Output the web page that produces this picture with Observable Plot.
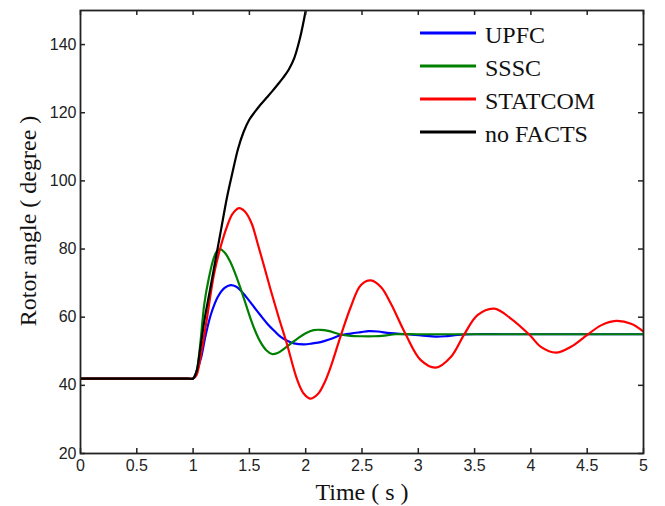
<!DOCTYPE html>
<html><head><meta charset="utf-8">
<script src="https://cdn.jsdelivr.net/npm/d3@7"></script>
<script src="https://cdn.jsdelivr.net/npm/@observablehq/plot@0.6"></script>
<style>
html,body{margin:0;padding:0;background:#fff;}
#chart{position:relative;width:665px;height:506px;}
</style></head><body><div id="chart"></div>
<script>
const seriesNames = ["UPFC", "SSSC", "STATCOM", "no FACTS"];
const seriesColors = ["#0000ff", "#008000", "#ff0000", "#000000"];

const tUPFC = [0, 0.25, 0.5, 0.75, 0.95, 1.0, 1.03, 1.07, 1.11, 1.16, 1.22, 1.28, 1.333, 1.38, 1.42, 1.48, 1.541, 1.6, 1.659, 1.72, 1.778, 1.84, 1.896, 1.985, 2.06, 2.133, 2.22, 2.311, 2.4, 2.49, 2.56, 2.64, 2.75, 2.9, 3.07, 3.15, 3.24, 3.35, 3.5, 3.75, 4.0, 4.25, 4.5, 4.75, 5.0];
const yUPFC = [42, 42, 42, 42, 42, 42, 44, 48, 54.5, 61, 66, 68.6, 69.4, 69, 67.9, 65.6, 63, 60.5, 58.1, 56, 54.2, 53, 52.3, 52, 52.3, 52.7, 53.6, 54.7, 55.2, 55.6, 55.9, 55.8, 55.3, 55, 54.5, 54.3, 54.4, 54.8, 55, 55, 55, 55, 55, 55, 55];

const tSSSC = [0, 0.25, 0.5, 0.75, 0.95, 1.0, 1.03, 1.06, 1.1, 1.14, 1.18, 1.21, 1.24, 1.28, 1.33, 1.38, 1.42, 1.47, 1.51, 1.56, 1.6, 1.65, 1.7, 1.75, 1.81, 1.87, 1.93, 2.0, 2.07, 2.13, 2.2, 2.3, 2.4, 2.5, 2.6, 2.7, 2.8, 3.0, 3.25, 3.5, 3.75, 4.0, 4.25, 4.5, 4.75, 5.0];
const ySSSC = [42, 42, 42, 42, 42, 42, 44, 51, 64, 71.5, 77, 79.3, 80, 79, 76.3, 72.3, 68.6, 63.6, 59.6, 55.3, 52.6, 50.3, 49.2, 49.5, 50.8, 52.3, 53.8, 55.3, 56.2, 56.3, 56, 55, 54.5, 54.4, 54.4, 54.6, 55, 55, 55, 55, 55, 55, 55, 55, 55, 55];

const tSTATCOM = [0, 0.25, 0.5, 0.75, 0.95, 1.0, 1.03, 1.07, 1.12, 1.185, 1.244, 1.3, 1.35, 1.407, 1.46, 1.52, 1.57, 1.63, 1.689, 1.76, 1.83, 1.926, 1.98, 2.044, 2.11, 2.17, 2.222, 2.311, 2.4, 2.489, 2.578, 2.67, 2.756, 2.889, 3.022, 3.156, 3.289, 3.407, 3.526, 3.674, 3.822, 3.985, 4.089, 4.222, 4.356, 4.504, 4.622, 4.756, 4.889, 5.0];
const ySTATCOM = [42, 42, 42, 42, 42, 42, 43, 49, 59, 72.5, 80.6, 86.5, 90.3, 92, 91, 87.5, 82, 75, 68, 60, 52.5, 41.5, 37.7, 36.1, 37.5, 41, 45.4, 54.5, 63, 69.4, 70.8, 68.8, 64, 54.9, 47.4, 45.2, 48.3, 54.9, 60.6, 62.5, 59.6, 54.9, 51.3, 49.6, 51.3, 54.9, 57.6, 58.9, 58.1, 55.8];

const tNoFACTS = [0, 0.25, 0.5, 0.75, 0.95, 1.0, 1.03, 1.06, 1.1, 1.15, 1.2, 1.25, 1.3, 1.35, 1.4, 1.45, 1.5, 1.55, 1.6, 1.65, 1.7, 1.75, 1.8, 1.85, 1.9, 1.95, 2.0, 2.04];
const yNoFACTS = [42, 42, 42, 42, 42, 42, 44, 50, 59, 68, 77, 86, 95, 102.5, 109.5, 114.5, 118, 120.3, 122.4, 124.3, 126.2, 128.2, 130.3, 132.7, 136.2, 142, 150, 158];

const xTicks = [0, 0.5, 1, 1.5, 2, 2.5, 3, 3.5, 4, 4.5, 5];
const xTickLabels = ["0", "0.5", "1", "1.5", "2", "2.5", "3", "3.5", "4", "4.5", "5"];
const yTicks = [20, 40, 60, 80, 100, 120, 140];
const yTickLabels = ["20", "40", "60", "80", "100", "120", "140"];
const xLabel = "Time ( s )";
const yLabel = "Rotor angle ( degree )";

const seriesT = [tUPFC, tSSSC, tSTATCOM, tNoFACTS];
const seriesY = [yUPFC, ySSSC, ySTATCOM, yNoFACTS];
const rows = [];
seriesNames.forEach((name, k) => {
  seriesT[k].forEach((t, i) => rows.push({name, t, v: seriesY[k][i]}));
});

const W = 665, H = 506, mL = 80, mR = 22, mT = 10, mB = 53;
const innerW = W - mL - mR, innerH = H - mT - mB;
const ink = "#222";
const serif = "'Liberation Serif', 'Times New Roman', serif";
const sans = "'Liberation Sans', Arial, sans-serif";

const plot = Plot.plot({
  width: W, height: H,
  marginLeft: mL, marginRight: mR, marginTop: mT, marginBottom: mB,
  style: {background: "#fff", fontFamily: sans},
  x: {domain: [0, 5]},
  y: {domain: [20, 150]},
  color: {domain: seriesNames, range: seriesColors},
  marks: [
    Plot.line(rows, {x: "t", y: "v", z: "name", stroke: "name", strokeWidth: 2.2, curve: "catmull-rom", clip: true}),
    Plot.frame({stroke: ink, strokeWidth: 1.8}),
    Plot.tickX(xTicks, {x: d => d, insetTop: innerH - 5, stroke: ink, strokeWidth: 1.5}),
    Plot.tickX(xTicks, {x: d => d, insetBottom: innerH - 5, stroke: ink, strokeWidth: 1.5}),
    Plot.tickY(yTicks, {y: d => d, insetRight: innerW - 5, stroke: ink, strokeWidth: 1.5}),
    Plot.tickY(yTicks, {y: d => d, insetLeft: innerW - 5, stroke: ink, strokeWidth: 1.5}),
    Plot.axisX(xTicks, {tickSize: 0, tickPadding: 6, label: null, fontSize: 16, fill: ink,
      tickFormat: d => xTickLabels[xTicks.indexOf(d)]}),
    Plot.axisY(yTicks, {tickSize: 0, tickPadding: 4, label: null, fontSize: 16, fill: ink,
      tickFormat: d => yTickLabels[yTicks.indexOf(d)]}),
    Plot.text([xLabel], {frameAnchor: "bottom", text: d => d, dy: 39, textAnchor: "middle", lineAnchor: "middle", fontSize: 24, fontFamily: serif, fill: "#111"}),
    Plot.text([yLabel], {frameAnchor: "left", text: d => d, dx: -52, dy: -11, rotate: -90, textAnchor: "middle", lineAnchor: "middle", fontSize: 24, fontFamily: serif, fill: "#111"})
  ]
});
document.getElementById("chart").appendChild(plot);

// legend inside the plot (top-right)
const svg = d3.select(plot);
const lg = svg.append("g").attr("text-anchor", "start");
const legendY0 = 33, legendStep = 33;
seriesNames.forEach((name, i) => {
  const y = legendY0 + i * legendStep;
  lg.append("line").attr("x1", 420).attr("x2", 476).attr("y1", y).attr("y2", y)
    .attr("stroke", seriesColors[i]).attr("stroke-width", 3);
  lg.append("text").attr("x", 485).attr("y", y + 9.5).attr("text-anchor", "start")
    .attr("font-family", serif).attr("font-size", 24).attr("fill", "#111").text(name);
});
</script>
</body></html>
